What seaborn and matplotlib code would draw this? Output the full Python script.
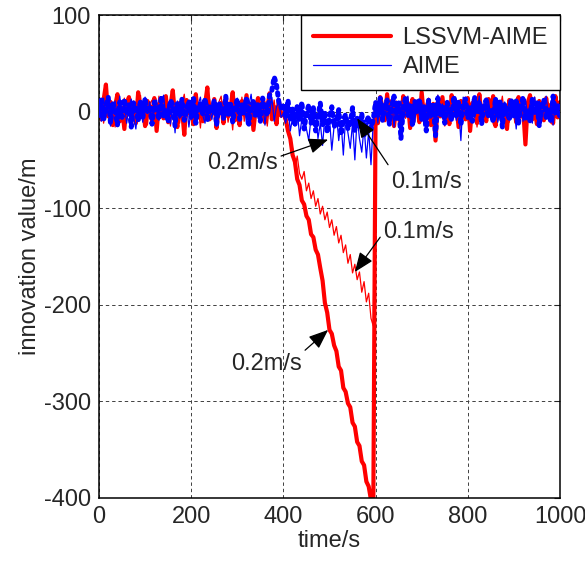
import numpy as np
import pandas as pd
import matplotlib
matplotlib.use("Agg")
import matplotlib.pyplot as plt
import seaborn as sns

# time axis, sampled every 5 s
time_s = list(range(0, 1001, 5))

# LSSVM-AIME, 0.2 m/s drift (thick red)
lssvm_02 = [
    3, -8, 12, 28, -5, 10, -14, 6, 18, -10, 4, -18, 9, 15, -6, 2, -12, 20, -3, 7,
    -15, 11, 5, -9, 14, -20, 8, 1, -7, 16, -11, 6, 22, -4, -16, 9, 3, -24, 12, -2,
    10, -13, 18, -6, 4, -10, 7, 25, -8, 0, 13, -17, 5, 9, -12, 15, -5, 2, 20, -9,
    6, -14, 11, -3, 17, -7, 8, -19, 4, 14, -6, 10, -11, 3, 19, -8, 5, -13, 12, -4,
    -2, -8, -20, -28, -45, -52, -70, -76, -92, -96, -108, -112, -127, -130, -143, -148,
    -162, -175, -198, -208, -226, -230, -242, -248, -264, -268, -286, -290, -302, -306,
    -322, -326, -342, -346, -362, -366, -383, -388, -402, -412,
    8, -12, 15, 4, -9, 18, -6, 11, -15, 7, 2, -10, 16, -4, 9, -17, 13, -2, 6, -11,
    20, -7, 3, 12, -14, 8, -30, 10, -5, 15, -9, 4, -13, 17, -3, 7, -16, 11, 1, -8,
    14, -20, 9, 5, -12, 18, -6, 2, -10, 13, -4, 16, -15, 6, 10, -7, 3, -18, 12, -1,
    8, -11, 15, -5, 4, -34, 9, 17, -8, 2, -13, 11, 6, -9, 14, -3, 7, -12, 16, -6, 10,
]

# LSSVM-AIME, 0.1 m/s drift (thin red)
lssvm_01 = [
    -5, 10, -12, 6, 15, -8, 3, -16, 9, 1, -10, 14, -4, 7, -13, 11, 2, -9, 17, -6,
    5, -14, 8, 12, -3, -11, 16, 0, -7, 10, 4, -15, 13, -2, 6, -12, 9, 18, -5, 3,
    -9, 14, -1, 7, -17, 11, 5, -8, 13, -4, 2, -14, 10, 16, -6, 8, -11, 4, -19, 12,
    1, -7, 15, -10, 6, 3, -13, 9, -3, 14, -8, 5, 11, -15, 7, -2, 12, -9, 4, -6,
    -3, -14, -20, -32, -38, -58, -46, -64, -70, -62, -82, -74, -90, -82, -98, -90,
    -106, -98, -112, -104, -120, -112, -128, -119, -136, -128, -146, -138, -157, -148,
    -167, -158, -174, -166, -187, -176, -197, -188, -214, -222,
    10, -6, 13, -9, 4, 16, -12, 7, -3, 11, -14, 5, 9, -7, 15, -2, 6, -10, 12, -5,
    3, -13, 8, 14, -8, 1, -11, 17, -4, 9, -15, 6, 2, -9, 13, -6, 10, -12, 4, 15,
    -7, 8, -3, 12, -16, 5, 9, -10, 14, -1, 7, -13, 11, -5, 3, 16, -8, 6, -11, 10,
    -4, 13, -9, 2, 8, -14, 12, -6, 5, 15, -10, 3, -7, 11, -2, 9, -12, 14, -5, 7, 1,
]

# AIME, 0.1 m/s drift (thin blue)
aime_01 = [
    6, -10, 14, -4, 9, -15, 2, 11, -8, 16, -3, 7, -12, 5, 13, -6, -18, 8, 3, -11,
    15, -2, 10, -14, 4, 12, -9, 1, 17, -5, 8, -13, 6, -22, 11, -7, 14, -1, 9, -16,
    3, 12, -10, 7, 15, -4, -12, 10, 2, -8, 13, -15, 5, 9, -6, 16, -3, 8, -11, 4,
    14, -9, 1, 11, -13, 6, 18, -5, 10, -7, 3, 12, -14, 8, -2, 15, -10, 5, 9, -6,
    -2, -12, 4, -20, -6, -15, 2, -25, -8, -3, -18, -30, -5, -10, 0, -28, -12, -35, -4, -20,
    -8, -40, -15, -2, -30, -10, -45, -6, -22, -38, -12, -50, -5, -28, -42, -15, -48, -20, -55, -10,
    8, -12, 15, -5, 10, -9, 3, 14, -16, 6, -2, 11, -13, 7, 16, -8, 2, -11, 12, -4,
    9, -15, 5, 13, -7, 1, -10, 17, -3, 8, -14, 10, -8, 6, 12, -9, 4, -30, 15, -2,
    7, -10, 13, -6, 3, 16, -13, 9, -4, 11, -8, 5, 14, -11, 2, -15, 10, -3, 12, -7,
    6, -18, 9, 4, -10, 13, -5, 8, -12, 15, -2, 11, -9, 3, 16, -6, 7, -14, 10, -1, 5,
]

# AIME, 0.2 m/s drift (dotted blue)
aime_02 = [
    -4, 12, -9, 5, 15, -12, 8, 2, -14, 10, -6, 13, -3, 7, -16, 9, 4, -10, 11, -7,
    14, -2, 6, -13, 10, 3, -8, 16, -5, 1, -11, 12, 7, -15, 9, -4, 13, -9, 2, 11,
    -6, 15, -12, 5, 8, -3, 14, -10, 6, -1, 12, -14, 9, 3, -7, 16, -5, 10, -11, 4,
    13, -8, 7, -2, 15, -13, 5, 11, -6, 9, -10, 14, 3, -4, 17, 22, 36, 28, 10, 4,
    8, -6, 12, -10, 3, -15, 6, -8, 10, -18, -2, 7, -12, 4, -20, -5, 9, -14, 0, -22,
    -6, 5, -16, -10, 2, -24, -8, -3, -18, -12, 4, -20, -7, -15, -2, -25, -10, -5, -18, -8,
    10, -5, 14, -9, 6, 12, -13, 4, 16, -7, 9, -28, 3, 15, -4, 8, -15, 11, -2, 13,
    -8, 5, -20, 12, -6, 9, -25, 14, -3, 7, -12, 10, 2, -9, 16, -5, 11, -14, 6, 13,
    -7, 4, -10, 15, -2, 9, -13, 7, 12, -6, 3, -11, 14, -4, 10, -16, 8, 1, -9, 13,
    -5, 11, -12, 6, 15, -8, 2, -10, 14, -3, 9, -15, 7, 12, -6, 4, -11, 16, -2, 8, -7,
]

x_ticks = [0, 200, 400, 600, 800, 1000]
y_ticks = [-400, -300, -200, -100, 0, 100]

# annotation texts: (label, text position, arrow tail, arrow tip)
notes = [
    ("0.2m/s", (312, -53), (395, -46), (497, -29)),
    ("0.1m/s", (711, -73), (627, -55), (560, -7)),
    ("0.1m/s", (692, -125), (610, -130), (555, -166)),
    ("0.2m/s", (364, -261), (447, -247), (497, -226)),
]

FS = 17

sns.set_style("white")
plt.rcParams["font.family"] = ["Liberation Sans", "DejaVu Sans"]
plt.rcParams["font.size"] = FS
plt.rcParams["axes.unicode_minus"] = False

df = pd.DataFrame({
    "time": time_s,
    "lssvm_02": lssvm_02,
    "lssvm_01": lssvm_01,
    "aime_01": aime_01,
    "aime_02": aime_02,
})

fig = plt.figure(figsize=(5.85, 5.63), dpi=100)
ax = fig.add_axes([99 / 585, 1 - 498 / 563, 461 / 585, 483 / 563])

sns.lineplot(data=df, x="time", y="lssvm_02", ax=ax, color="#ff0000",
             linewidth=3.0, estimator=None, label="LSSVM-AIME", zorder=2)
sns.lineplot(data=df, x="time", y="lssvm_01", ax=ax, color="#ff0000",
             linewidth=0.9, estimator=None, label="_nolegend_", zorder=2)
sns.lineplot(data=df, x="time", y="aime_01", ax=ax, color="#0000ff",
             linewidth=0.9, estimator=None, label="AIME", zorder=3)
sns.lineplot(data=df, x="time", y="aime_02", ax=ax, color="#0000ff",
             linewidth=3.6, estimator=None, label="_nolegend_", zorder=3)
ax.lines[-1].set_linestyle((0, (0.5, 1.0)))
ax.lines[-1].set_dash_capstyle("round")

ax.set_xlim(0, 1000)
ax.set_ylim(-400, 100)
ax.set_xticks(x_ticks)
ax.set_yticks(y_ticks)
ax.set_xlabel("time/s", fontsize=FS, labelpad=1)
ax.set_ylabel("innovation value/m", fontsize=FS, labelpad=2)
ax.tick_params(direction="in", length=4, width=0.8, labelsize=FS,
               top=True, right=True, pad=6)
ax.grid(True, color="#404040", linestyle=(0, (3.5, 3)), linewidth=0.7)
ax.set_axisbelow(True)
for sp in ax.spines.values():
    sp.set_color("k")
    sp.set_linewidth(1.1)

for label, txt, tail, tip in notes:
    ax.text(txt[0], txt[1], label, ha="center", va="center", fontsize=FS, zorder=6)
    ax.annotate("", xy=tip, xytext=tail,
                arrowprops=dict(arrowstyle="-|>,head_length=0.8,head_width=0.32",
                                color="k", lw=0.9, mutation_scale=15,
                                shrinkA=0, shrinkB=0),
                zorder=6)

leg = ax.legend(loc="upper right", bbox_to_anchor=(1, 1), borderaxespad=0,
                fancybox=False, edgecolor="k", framealpha=1, fontsize=FS,
                handlelength=3.3, handletextpad=0.5, borderpad=0.5,
                labelspacing=0.3)
leg.get_frame().set_linewidth(1.0)
leg.set_zorder(10)

fig.savefig("out.png", dpi=100)
